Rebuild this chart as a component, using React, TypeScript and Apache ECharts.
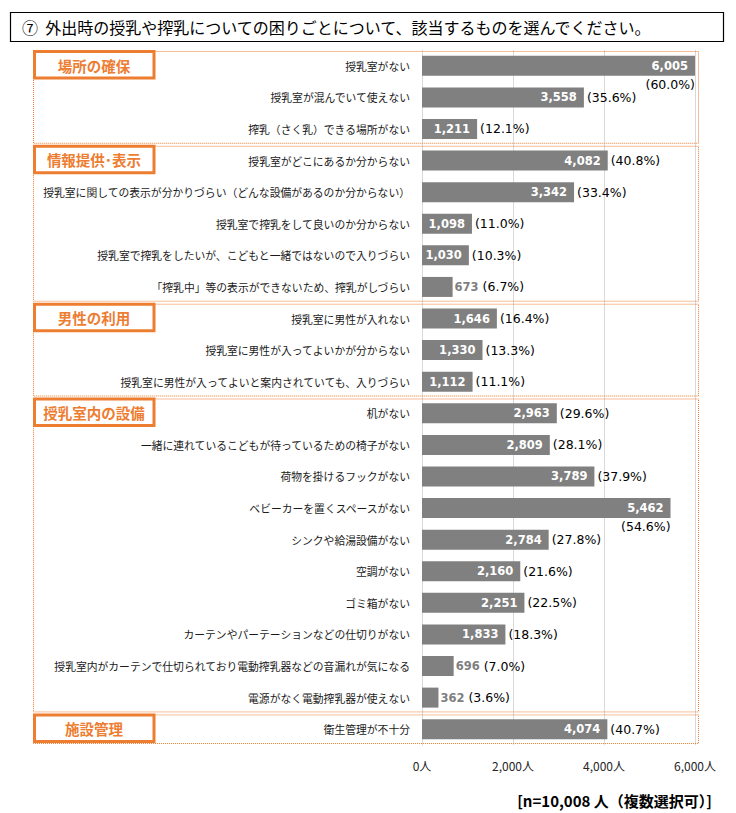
import React, { useEffect, useRef } from "react";
import * as echarts from "echarts";

// Survey items, top to bottom
const categories = [
  "授乳室がない",
  "授乳室が混んでいて使えない",
  "搾乳（さく乳）できる場所がない",
  "授乳室がどこにあるか分からない",
  "授乳室に関しての表示が分かりづらい（どんな設備があるのか分からない）",
  "授乳室で搾乳をして良いのか分からない",
  "授乳室で搾乳をしたいが、こどもと一緒ではないので入りづらい",
  "「搾乳中」等の表示ができないため、搾乳がしづらい",
  "授乳室に男性が入れない",
  "授乳室に男性が入ってよいかが分からない",
  "授乳室に男性が入ってよいと案内されていても、入りづらい",
  "机がない",
  "一緒に連れているこどもが待っているための椅子がない",
  "荷物を掛けるフックがない",
  "ベビーカーを置くスペースがない",
  "シンクや給湯設備がない",
  "空調がない",
  "ゴミ箱がない",
  "カーテンやパーテーションなどの仕切りがない",
  "授乳室内がカーテンで仕切られており電動搾乳器などの音漏れが気になる",
  "電源がなく電動搾乳器が使えない",
  "衛生管理が不十分",
];

// Number of respondents per item
const counts = [
  6005, 3558, 1211, 4082, 3342, 1098, 1030, 673, 1646, 1330, 1112, 2963, 2809,
  3789, 5462, 2784, 2160, 2251, 1833, 696, 362, 4074,
];

// Share of respondents (%)
const shares = [
  "60.0", "35.6", "12.1", "40.8", "33.4", "11.0", "10.3", "6.7", "16.4", "13.3",
  "11.1", "29.6", "28.1", "37.9", "54.6", "27.8", "21.6", "22.5", "18.3", "7.0",
  "3.6", "40.7",
];

// Item groups (consecutive runs of categories)
const groupNames = ["場所の確保", "情報提供･表示", "男性の利用", "授乳室内の設備", "施設管理"];
const groupSizes = [3, 5, 3, 10, 1];

const xMin = 0;
const xMax = 6000;
const xStep = 2000;

const titleText = "⑦  外出時の授乳や搾乳についての困りごとについて、該当するものを選んでください。";
const noteText = "[n=10,008 人（複数選択可）]";

const ORANGE = "#ED7D31";
const BAR = "#808080";
const JP = "'Noto Sans CJK JP', 'Noto Sans', sans-serif";
const NUM = "'DejaVu Sans', Verdana, sans-serif";

const GRID_LEFT = 422;
const GRID_TOP = 50;
const GRID_W = 273;
const GRID_H = 695;

const fmt = (v: number) => v.toLocaleString("en-US");

export default function App() {
  const ref = useRef<HTMLDivElement>(null);

  useEffect(() => {
    document.body.style.margin = "0";
    const chart = echarts.init(ref.current!, null, { renderer: "svg" });

    const valueData = counts.map((v) => ({
      value: v,
      label: { show: v >= 1000 },
    }));

    const shareData = counts.map((v, i) => {
      if (v < 1000) {
        return {
          value: v,
          label: { formatter: `{g|${fmt(v)}}{p| (${shares[i]}%)}`, distance: 2 },
        };
      }
      if (v > 5000) {
        return {
          value: v,
          label: {
            position: ["100%", "100%"],
            align: "right",
            verticalAlign: "top",
            offset: [0, 2],
            formatter: `{p|(${shares[i]}%)}`,
          },
        };
      }
      return { value: v, label: { formatter: `{p|(${shares[i]}%)}` } };
    });

    const option: any = {
      animation: false,
      grid: { left: GRID_LEFT, top: GRID_TOP, width: GRID_W, height: GRID_H },
      xAxis: {
        type: "value",
        min: xMin,
        max: xMax,
        interval: xStep,
        axisLine: { show: false },
        axisTick: { show: false },
        splitLine: { lineStyle: { color: "#d9d9d9", width: 1 } },
        axisLabel: {
          margin: 14,
          color: "#262626",
          fontFamily: JP,
          fontSize: 12,
          formatter: (v: number) => `${fmt(v)}人`,
        },
      },
      yAxis: {
        type: "category",
        inverse: true,
        data: categories,
        axisLine: { show: true, lineStyle: { color: "#d9d9d9" } },
        axisTick: { show: false },
        axisLabel: {
          margin: 12,
          color: "#1a1a1a",
          fontFamily: JP,
          fontSize: 10.8,
        },
      },
      series: [
        {
          type: "bar",
          data: valueData,
          barWidth: 20,
          itemStyle: { color: BAR },
          label: {
            position: "insideRight",
            distance: 7,
            color: "#ffffff",
            fontFamily: NUM,
            fontWeight: "bold",
            fontSize: 11.5,
            formatter: (p: any) => fmt(p.value),
          },
          z: 2,
        },
        {
          type: "bar",
          data: shareData,
          barWidth: 20,
          barGap: "-100%",
          silent: true,
          itemStyle: { color: "rgba(0,0,0,0)" },
          label: {
            show: true,
            position: "right",
            distance: 3,
            fontWeight: "normal",
            rich: {
              p: { color: "#000000", fontFamily: NUM, fontSize: 12.5, fontWeight: "normal" },
              g: { color: "#7f7f7f", fontFamily: NUM, fontSize: 11.5, fontWeight: "bold" },
            },
          },
          z: 3,
        },
      ],
    };

    chart.setOption(option);

    // Dotted group frames and their tag boxes, placed from the category axis
    const half = GRID_H / categories.length / 2;
    const frames: any[] = [];
    let start = 0;
    groupNames.forEach((name, g) => {
      const first = start;
      const last = start + groupSizes[g] - 1;
      const top = (chart.convertToPixel({ yAxisIndex: 0 }, categories[first]) as number) - half + 1;
      const bottom = (chart.convertToPixel({ yAxisIndex: 0 }, categories[last]) as number) + half - 2;
      frames.push({
        type: "rect",
        silent: true,
        z: 10,
        shape: { x: 33.5, y: top + 0.5, width: 665, height: bottom - top },
        style: { fill: "none", stroke: ORANGE, lineWidth: 1, lineDash: [1, 1] },
      });
      frames.push({
        type: "rect",
        silent: true,
        z: 11,
        shape: { x: 34.5, y: top + 0.5, width: 119.5, height: 26.5 },
        style: { fill: "#ffffff", stroke: ORANGE, lineWidth: 3 },
      });
      frames.push({
        type: "text",
        silent: true,
        z: 12,
        x: 94,
        y: top + 14,
        style: {
          text: name,
          fill: ORANGE,
          font: `bold 14.5px ${JP}`,
          align: "center",
          verticalAlign: "middle",
        },
      });
      start += groupSizes[g];
    });

    chart.setOption({
      graphic: [
        {
          type: "rect",
          silent: true,
          shape: { x: 10.5, y: 12.5, width: 713, height: 29 },
          style: { fill: "#ffffff", stroke: "#000000", lineWidth: 1.2 },
        },
        {
          type: "text",
          silent: true,
          x: 22,
          y: 27,
          style: {
            text: titleText,
            fill: "#000000",
            font: `16px ${JP}`,
            verticalAlign: "middle",
          },
        },
        ...frames,
        {
          type: "text",
          silent: true,
          x: 712,
          y: 800,
          style: {
            text: noteText,
            fill: "#000000",
            font: `bold 15px ${JP}`,
            align: "right",
            verticalAlign: "middle",
          },
        },
      ],
    });

    return () => chart.dispose();
  }, []);

  return <div ref={ref} style={{ width: 736, height: 813 }} />;
}
